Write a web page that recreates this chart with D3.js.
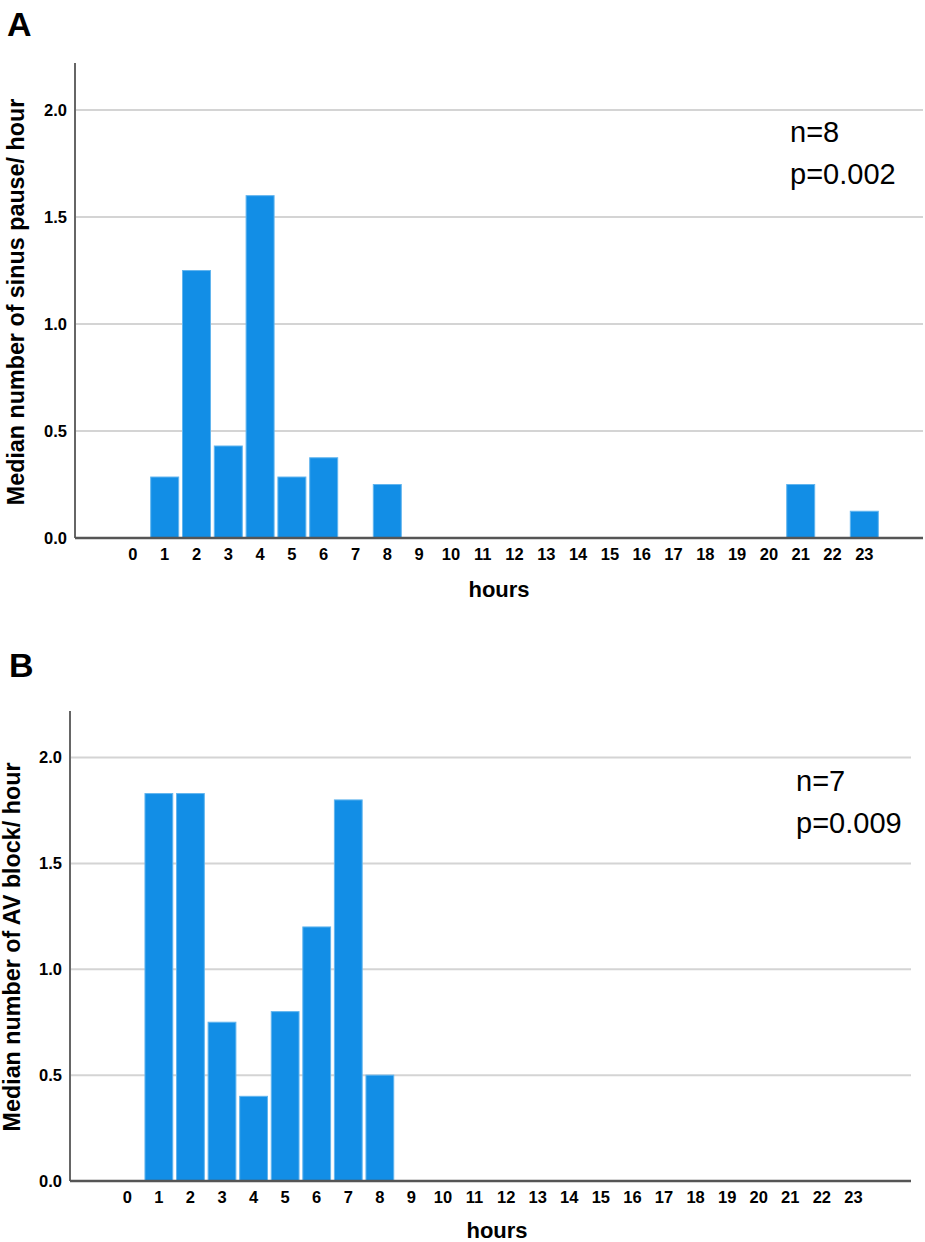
<!DOCTYPE html>
<head>
  <meta charset="utf-8">
  <script src="https://d3js.org/d3.v7.min.js"></script>
  <style>
    body { margin:0; background:#fff; font-family: "Liberation Sans", Arial, sans-serif; }
    .grid line { stroke:#d4d4d4; stroke-width:2; }
    .tick text { font-weight:bold; font-size:16.5px; fill:#000; }
  </style>
</head>
<body>
  <script>
    var hours = d3.range(0, 24).map(String);
    var yTicks = [0, 0.5, 1.0, 1.5, 2.0];

    // panel A: median sinus pauses per hour
    var pauseValues = [0, 0.285, 1.25, 0.43, 1.6, 0.285, 0.375, 0, 0.25, 0, 0, 0,
                       0, 0, 0, 0, 0, 0, 0, 0, 0, 0.25, 0, 0.125];
    // panel B: median AV blocks per hour
    var blockValues = [0, 1.83, 1.83, 0.75, 0.4, 0.8, 1.2, 1.8, 0.5, 0, 0, 0,
                       0, 0, 0, 0, 0, 0, 0, 0, 0, 0, 0, 0];

    var svg = d3.select("body").append("svg")
      .attr("width", 925)
      .attr("height", 1242);

    function panel(opt) {
      var g = svg.append("g");

      var x = d3.scaleBand()
        .domain(hours)
        .range([opt.bandLeft, opt.bandRight])
        .paddingInner(0.12)
        .paddingOuter(0);

      var y = d3.scaleLinear()
        .domain([0, 2.22])
        .range([opt.bottom, opt.top]);

      // gridlines
      g.append("g").attr("class", "grid")
        .selectAll("line")
        .data(yTicks.filter(function(d) { return d > 0; }))
        .enter().append("line")
        .attr("x1", opt.left).attr("x2", opt.right)
        .attr("y1", function(d) { return y(d); })
        .attr("y2", function(d) { return y(d); });

      // bars
      g.selectAll(".bar")
        .data(opt.values.map(function(v, i) { return { h: hours[i], v: v }; })
          .filter(function(d) { return d.v > 0; }))
        .enter().append("rect")
        .attr("class", "bar")
        .attr("x", function(d) { return x(d.h); })
        .attr("width", x.bandwidth())
        .attr("y", function(d) { return y(d.v); })
        .attr("height", function(d) { return y(0) - y(d.v); })
        .style("fill", "#128ee6")
        .style("stroke", "#62b5ee")
        .style("stroke-width", 1);

      // y axis
      var yaxis = d3.axisLeft(y).tickValues(yTicks).tickFormat(d3.format(".1f")).tickSize(0).tickPadding(8);
      var ya = g.append("g")
        .attr("transform", "translate(" + opt.left + ",0)")
        .call(yaxis);
      ya.select(".domain").remove();
      g.append("line")
        .attr("x1", opt.left).attr("x2", opt.left)
        .attr("y1", opt.top).attr("y2", opt.bottom)
        .style("stroke", "#666").style("stroke-width", 2);

      // x axis
      var xaxis = d3.axisBottom(x).tickSize(0).tickPadding(10);
      var xa = g.append("g")
        .attr("transform", "translate(0," + opt.bottom + ")")
        .call(xaxis);
      xa.select(".domain").remove();
      g.append("line")
        .attr("x1", opt.left).attr("x2", opt.right)
        .attr("y1", opt.bottom).attr("y2", opt.bottom)
        .style("stroke", "#555").style("stroke-width", 2.5);

      // titles
      g.append("text")
        .text("hours")
        .attr("x", opt.xTitleX).attr("y", opt.xTitleY)
        .attr("text-anchor", "middle")
        .style("font-weight", "bold").style("font-size", "22px");

      g.append("text")
        .text(opt.yTitle)
        .attr("text-anchor", "middle")
        .attr("transform", "translate(" + opt.yTitleX + "," + opt.yTitleY + ") rotate(-90)")
        .style("font-weight", "bold").style("font-size", "23.3px");

      g.append("text")
        .text(opt.letter)
        .attr("x", opt.letterX).attr("y", opt.letterY)
        .style("font-weight", "bold").style("font-size", "34px");

      g.append("text").text(opt.n)
        .attr("x", opt.noteX).attr("y", opt.noteY)
        .style("font-size", "29px");
      g.append("text").text(opt.p)
        .attr("x", opt.noteX).attr("y", opt.noteY + 42)
        .style("font-size", "29px");
    }

    panel({
      values: pauseValues, letter: "A", letterX: 7, letterY: 36,
      left: 75, right: 923, top: 63, bottom: 538,
      bandLeft: 118.9, bandRight: 878.3,
      yTitle: "Median number of sinus pause/ hour", yTitleX: 24, yTitleY: 302,
      xTitleX: 499, xTitleY: 597,
      n: "n=8", p: "p=0.002", noteX: 790, noteY: 142
    });

    panel({
      values: blockValues, letter: "B", letterX: 9, letterY: 677,
      left: 70, right: 911, top: 711, bottom: 1181,
      bandLeft: 113.4, bandRight: 867.3,
      yTitle: "Median number of AV block/ hour", yTitleX: 20, yTitleY: 947,
      xTitleX: 497, xTitleY: 1238,
      n: "n=7", p: "p=0.009", noteX: 796, noteY: 791
    });
  </script>
</body>
